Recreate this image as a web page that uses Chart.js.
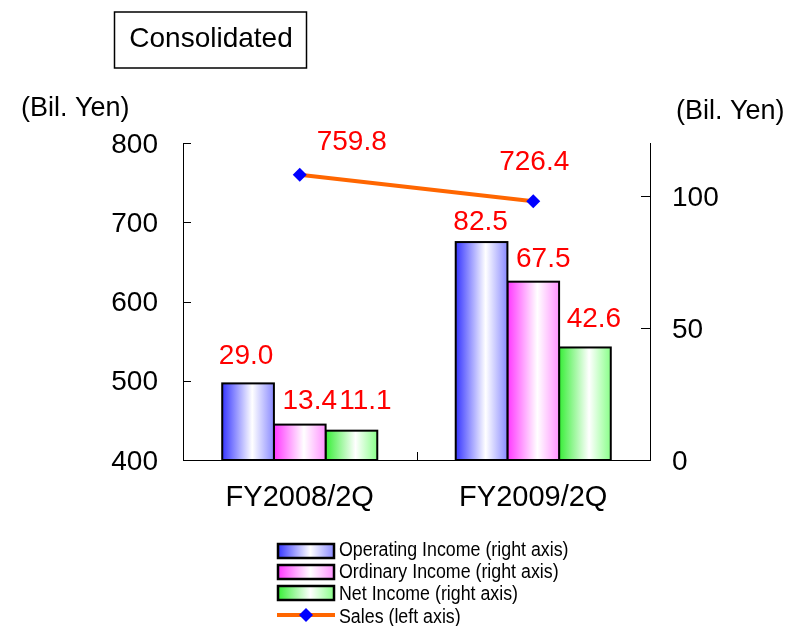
<!DOCTYPE html>
<html>
<head>
<meta charset="utf-8">
<script src="https://cdn.jsdelivr.net/npm/chart.js@4/dist/chart.umd.min.js"></script>
<style>
  html, body { margin: 0; padding: 0; background: #fff; }
  #wrap { width: 792px; height: 626px; position: relative; }
</style>
</head>
<body>
<div id="wrap"><canvas id="chart"></canvas></div>
<script>
// ---- data (billions of yen) ----
const categories = ['FY2008/2Q', 'FY2009/2Q'];
const operatingIncome = [29.0, 82.5];
const ordinaryIncome = [13.4, 67.5];
const netIncome = [11.1, 42.6];
const sales = [759.8, 726.4];
const salesTicks = [400, 500, 600, 700, 800];
const incomeTicks = [0, 50, 100];
const seriesNames = [
  'Operating Income (right axis)',
  'Ordinary Income (right axis)',
  'Net Income (right axis)',
  'Sales (left axis)'
];

const FONT = '"Liberation Sans", Arial, sans-serif';

function barGradient(ctx, left, right, from, to) {
  const g = ctx.createLinearGradient(left, 0, right, 0);
  g.addColorStop(0, from);
  g.addColorStop(0.58, '#ffffff');
  g.addColorStop(1, to);
  return g;
}

// Cylinder-like horizontal gradient per bar, plus a centred 2px outline
const barStyling = {
  id: 'barStyling',
  beforeDatasetDraw(chart, args) {
    const meta = args.meta;
    if (meta.type !== 'bar') return;
    const ds = chart.data.datasets[args.index];
    meta.data.forEach(el => {
      const p = el.getProps(['x', 'width'], true);
      const g = barGradient(chart.ctx, p.x - p.width / 2, p.x + p.width / 2, ds.gradFrom, ds.gradTo);
      el.options = Object.assign({}, el.options, { backgroundColor: g });
    });
  },
  afterDatasetDraw(chart, args) {
    if (args.meta.type !== 'bar') return;
    const ctx = chart.ctx;
    ctx.save();
    ctx.strokeStyle = '#000';
    ctx.lineWidth = 2;
    args.meta.data.forEach(el => {
      const p = el.getProps(['x', 'y', 'base', 'width'], true);
      ctx.strokeRect(p.x - p.width / 2, p.y, p.width, p.base - p.y);
    });
    ctx.restore();
  }
};

// Red value labels placed next to each bar top / line point
const valueLabels = {
  id: 'valueLabels',
  afterDatasetsDraw(chart, args, opts) {
    const ctx = chart.ctx;
    ctx.save();
    ctx.fillStyle = '#ff0000';
    ctx.font = '28px ' + FONT;
    ctx.textAlign = 'center';
    ctx.textBaseline = 'middle';
    chart.data.datasets.forEach((ds, di) => {
      const meta = chart.getDatasetMeta(di);
      const shifts = opts.shifts[di];
      meta.data.forEach((el, i) => {
        const p = el.getProps(['x', 'y'], true);
        const s = shifts[i];
        ctx.fillText(ds.data[i].toFixed(1), p.x + s[0], p.y + s[1]);
      });
    });
    ctx.restore();
  }
};

// Inward tick marks, heading box, unit captions and the stacked legend
const decorations = {
  id: 'decorations',
  afterDraw(chart) {
    const ctx = chart.ctx;
    const area = chart.chartArea;
    const yL = chart.scales.y, yR = chart.scales.y2, x = chart.scales.x;
    ctx.save();
    ctx.strokeStyle = '#000';
    ctx.lineWidth = 1;
    ctx.beginPath();
    yL.ticks.forEach(t => {
      const py = Math.round(yL.getPixelForValue(t.value)) + 0.5;
      ctx.moveTo(area.left, py); ctx.lineTo(area.left + 8, py);
    });
    yR.ticks.forEach(t => {
      const py = Math.round(yR.getPixelForValue(t.value)) + 0.5;
      ctx.moveTo(area.right - 9, py); ctx.lineTo(area.right, py);
    });
    for (let i = 1; i < categories.length; i++) {
      const px = Math.round((x.getPixelForValue(i - 1) + x.getPixelForValue(i)) / 2) + 0.5;
      ctx.moveTo(px, area.bottom); ctx.lineTo(px, area.bottom - 8);
    }
    ctx.stroke();

    // heading box
    ctx.lineWidth = 1.5;
    ctx.strokeRect(114.5, 12, 192, 56);
    ctx.fillStyle = '#000';
    ctx.font = '28px ' + FONT;
    ctx.textAlign = 'center';
    ctx.textBaseline = 'middle';
    ctx.fillText('Consolidated', 211, 39);

    // unit captions
    ctx.font = '27px ' + FONT;
    ctx.textAlign = 'left';
    ctx.fillText('(Bil. Yen)', 21, 109);
    ctx.fillText('(Bil. Yen)', 676, 112);

    // legend
    const bars = chart.data.datasets.slice(0, 3);
    const swX = 278, swW = 56, swH = 14;
    const swTops = [544, 565, 586];
    const baselines = [556, 578, 600, 623];
    bars.forEach((ds, i) => {
      ctx.fillStyle = barGradient(ctx, swX, swX + swW, ds.gradFrom, ds.gradTo);
      ctx.fillRect(swX, swTops[i], swW, swH);
      ctx.lineWidth = 2.5;
      ctx.strokeStyle = '#000';
      ctx.strokeRect(swX, swTops[i], swW, swH);
    });
    const ly = 615;
    ctx.strokeStyle = '#ff6600';
    ctx.lineWidth = 4;
    ctx.beginPath(); ctx.moveTo(277, ly); ctx.lineTo(335, ly); ctx.stroke();
    ctx.fillStyle = '#0000ff';
    ctx.beginPath();
    ctx.moveTo(306 - 7, ly); ctx.lineTo(306, ly - 7); ctx.lineTo(306 + 7, ly); ctx.lineTo(306, ly + 7);
    ctx.closePath(); ctx.fill();

    ctx.fillStyle = '#000';
    ctx.font = '20px ' + FONT;
    ctx.textBaseline = 'alphabetic';
    seriesNames.forEach((name, i) => {
      ctx.save();
      ctx.translate(339, baselines[i]);
      ctx.scale(0.89, 1);
      ctx.fillText(name, 0, 0);
      ctx.restore();
    });
    ctx.restore();
  }
};

new Chart(document.getElementById('chart'), {
  type: 'bar',
  data: {
    labels: categories,
    datasets: [
      { label: seriesNames[0], data: operatingIncome, yAxisID: 'y2', order: 1,
        gradFrom: '#3737ff', gradTo: '#8a8aff', borderWidth: 0,
        categoryPercentage: 0.664, barPercentage: 1 },
      { label: seriesNames[1], data: ordinaryIncome, yAxisID: 'y2', order: 1,
        gradFrom: '#ff37ff', gradTo: '#ff92ff', borderWidth: 0,
        categoryPercentage: 0.664, barPercentage: 1 },
      { label: seriesNames[2], data: netIncome, yAxisID: 'y2', order: 1,
        gradFrom: '#37ee37', gradTo: '#8aff8a', borderWidth: 0,
        categoryPercentage: 0.664, barPercentage: 1 },
      { type: 'line', label: seriesNames[3], data: sales, yAxisID: 'y', order: 0,
        borderColor: '#ff6600', borderWidth: 4, tension: 0,
        pointStyle: 'rectRot', pointRadius: 7, pointBorderWidth: 0,
        pointBackgroundColor: '#0000ff', pointBorderColor: '#0000ff' }
    ]
  },
  options: {
    responsive: true,
    maintainAspectRatio: false,
    animation: false,
    layout: { padding: { top: 143, left: 0, right: 0, bottom: 0 } },
    plugins: {
      legend: { display: false },
      tooltip: { enabled: false },
      valueLabels: {
        shifts: [
          [[-2, -27], [-1, -20]],
          [[10, -23], [10, -22]],
          [[14, -29], [9, -28]],
          [[52, -33], [1, -39]]
        ]
      }
    },
    scales: {
      x: {
        grid: { display: false },
        border: { display: true, color: '#000', width: 1 },
        ticks: { color: '#000', font: { family: FONT, size: 29 }, padding: 13 },
        afterFit(s) { s.height = 166; }
      },
      y: {
        position: 'left',
        min: 400, max: 800,
        grid: { display: false },
        border: { display: true, color: '#000', width: 1 },
        ticks: { color: '#000', font: { family: FONT, size: 28 }, padding: 17, labelOffset: 2 },
        afterBuildTicks(s) { s.ticks = salesTicks.map(v => ({ value: v })); },
        afterFit(s) { s.width = 183; }
      },
      y2: {
        position: 'right',
        min: 0, max: 120,
        grid: { display: false },
        border: { display: true, color: '#000', width: 1 },
        ticks: { color: '#000', font: { family: FONT, size: 28 }, padding: 14, labelOffset: 2 },
        afterBuildTicks(s) { s.ticks = incomeTicks.map(v => ({ value: v })); },
        afterFit(s) { s.width = 142; }
      }
    }
  },
  plugins: [barStyling, valueLabels, decorations]
});
</script>
</body>
</html>
